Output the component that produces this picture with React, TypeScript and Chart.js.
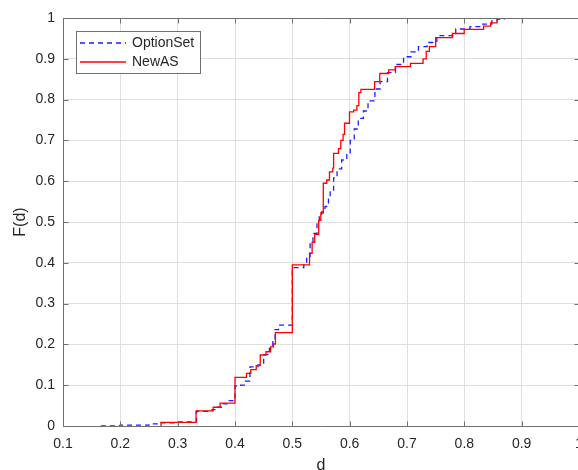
import React, { useEffect, useRef } from 'react';
import { Chart, registerables } from 'chart.js';

Chart.register(...registerables);

// ---- data ----
const seriesLabels = ['OptionSet', 'NewAS'];

const optionSetX = [0.166, 0.2, 0.25, 0.27, 0.3, 0.333, 0.36, 0.37, 0.378, 0.386, 0.4, 0.41, 0.418, 0.426, 0.44, 0.45, 0.46, 0.466, 0.47, 0.476, 0.5, 0.52, 0.525, 0.531, 0.536, 0.543, 0.547, 0.551, 0.557, 0.563, 0.566, 0.572, 0.578, 0.586, 0.595, 0.601, 0.608, 0.615, 0.624, 0.632, 0.644, 0.653, 0.666, 0.68, 0.694, 0.707, 0.72, 0.735, 0.752, 0.785, 0.81, 0.83, 0.848, 0.857, 0.87, 0.909];
const optionSetF = [0, 0.002, 0.005, 0.008, 0.01, 0.036, 0.04, 0.046, 0.054, 0.062, 0.098, 0.1, 0.11, 0.145, 0.15, 0.175, 0.19, 0.21, 0.236, 0.247, 0.388, 0.399, 0.415, 0.448, 0.472, 0.5, 0.513, 0.525, 0.538, 0.562, 0.578, 0.608, 0.63, 0.652, 0.668, 0.7, 0.728, 0.754, 0.772, 0.797, 0.826, 0.844, 0.866, 0.886, 0.905, 0.917, 0.93, 0.94, 0.957, 0.973, 0.979, 0.985, 0.993, 0.998, 1.0, 1.0];

const newAsX = [0.271, 0.271, 0.332, 0.362, 0.374, 0.4, 0.42, 0.4275, 0.437, 0.444, 0.454, 0.462, 0.467, 0.4705, 0.5, 0.53, 0.5345, 0.539, 0.546, 0.5497, 0.554, 0.56, 0.5648, 0.5706, 0.572, 0.5805, 0.5845, 0.5885, 0.591, 0.5997, 0.607, 0.6126, 0.616, 0.6196, 0.6435, 0.6525, 0.668, 0.6794, 0.706, 0.728, 0.7335, 0.739, 0.75, 0.779, 0.7998, 0.8335, 0.846, 0.857, 0.862];
const newAsF = [0, 0.009, 0.037, 0.046, 0.056, 0.119, 0.129, 0.138, 0.148, 0.174, 0.182, 0.194, 0.201, 0.229, 0.395, 0.423, 0.45, 0.47, 0.504, 0.522, 0.595, 0.603, 0.623, 0.632, 0.668, 0.68, 0.7, 0.715, 0.742, 0.77, 0.774, 0.785, 0.817, 0.825, 0.844, 0.864, 0.873, 0.881, 0.889, 0.9, 0.918, 0.93, 0.952, 0.962, 0.972, 0.98, 0.988, 0.997, 1.0];

const xTicks = [0.1, 0.2, 0.3, 0.4, 0.5, 0.6, 0.7, 0.8, 0.9, 1];
const yTicks = [0, 0.1, 0.2, 0.3, 0.4, 0.5, 0.6, 0.7, 0.8, 0.9, 1];
const xTitle = 'd';
const yTitle = 'F(d)';

// ---- styles ----
const FONT = '"Liberation Sans", Arial, Helvetica, sans-serif';
const TEXT = '#262626';
const AXIS = '#707070';
const GRID = '#dfdfdf';
const BLUE = 'rgb(30,30,255)';
const RED = 'rgb(255,0,0)';
const LW = 1.3;

const fmt = (v: number) => String(Math.round(v * 10) / 10);

const framePlugin = {
  id: 'matlabFrame',
  afterDraw(chart: any) {
    const { ctx, chartArea: a, scales } = chart;
    const L = Math.floor(a.left) + 0.5;
    const R = Math.floor(a.right) + 0.5;
    const T = Math.floor(a.top) + 0.5;
    const B = Math.floor(a.bottom) + 0.5;
    ctx.save();
    ctx.strokeStyle = AXIS;
    ctx.lineWidth = 1;
    ctx.setLineDash([]);
    ctx.beginPath();
    ctx.rect(L, T, R - L, B - T);
    ctx.stroke();
    const tl = 5;
    ctx.beginPath();
    xTicks.forEach((v) => {
      const px = Math.round(scales.x.getPixelForValue(v)) + 0.5;
      ctx.moveTo(px, B);
      ctx.lineTo(px, B - tl);
      ctx.moveTo(px, T);
      ctx.lineTo(px, T + tl);
    });
    yTicks.forEach((v) => {
      const py = Math.round(scales.y.getPixelForValue(v)) + 0.5;
      ctx.moveTo(L, py);
      ctx.lineTo(L + tl, py);
      ctx.moveTo(R, py);
      ctx.lineTo(R - tl, py);
    });
    ctx.stroke();

    // axis titles
    ctx.fillStyle = TEXT;
    ctx.font = `16px ${FONT}`;
    ctx.textAlign = 'center';
    ctx.textBaseline = 'alphabetic';
    ctx.fillText(xTitle, (a.left + a.right) / 2, 470);
    ctx.save();
    ctx.translate(25, (a.top + a.bottom) / 2);
    ctx.rotate(-Math.PI / 2);
    ctx.fillText(yTitle, 0, 0);
    ctx.restore();

    // legend
    const lx = 76.5, ly = 31.5, lw = 124, lh = 42;
    ctx.fillStyle = '#ffffff';
    ctx.fillRect(lx, ly, lw, lh);
    ctx.strokeStyle = AXIS;
    ctx.lineWidth = 1;
    ctx.strokeRect(lx, ly, lw, lh);
    const ds = chart.data.datasets;
    const rows = [43, 62];
    ds.forEach((d: any, i: number) => {
      const y = rows[i];
      ctx.strokeStyle = d.borderColor;
      ctx.lineWidth = d.borderWidth;
      ctx.setLineDash(d.borderDash || []);
      ctx.beginPath();
      ctx.moveTo(80, y);
      ctx.lineTo(126, y);
      ctx.stroke();
      ctx.setLineDash([]);
      ctx.fillStyle = TEXT;
      ctx.font = `14px ${FONT}`;
      ctx.textAlign = 'left';
      ctx.textBaseline = 'middle';
      ctx.fillText(d.label, 132, y + 0.5);
    });
    ctx.restore();
  },
};

export default function App() {
  const ref = useRef<HTMLCanvasElement | null>(null);

  useEffect(() => {
    if (!ref.current) return;
    const chart = new Chart(ref.current, {
      type: 'line',
      data: {
        datasets: [
          {
            label: seriesLabels[0],
            data: optionSetX.map((x, i) => ({ x, y: optionSetF[i] })),
            borderColor: BLUE,
            borderWidth: LW,
            borderDash: [5, 4],
            pointRadius: 0,
            stepped: true,
            fill: false,
            order: 1,
          },
          {
            label: seriesLabels[1],
            data: newAsX.map((x, i) => ({ x, y: newAsF[i] })),
            borderColor: RED,
            borderWidth: LW,
            pointRadius: 0,
            stepped: true,
            fill: false,
            order: 0,
          },
        ],
      },
      options: {
        responsive: false,
        animation: false,
        events: [],
        layout: { padding: { top: 18, right: 1, left: 0, bottom: 0 }, autoPadding: false } as any,
        plugins: { legend: { display: false }, tooltip: { enabled: false } },
        scales: {
          x: {
            type: 'linear',
            min: 0.1,
            max: 1,
            afterBuildTicks: (s: any) => {
              s.ticks = xTicks.map((v) => ({ value: v }));
            },
            afterFit: (s: any) => {
              s.height = 44;
              s.paddingLeft = 0;
              s.paddingRight = 0;
            },
            ticks: {
              callback: (v: any) => fmt(Number(v)),
              font: { family: FONT, size: 14 },
              color: TEXT,
              padding: 10,
              maxRotation: 0,
              autoSkip: false,
            },
            grid: { color: GRID, drawTicks: false, lineWidth: 1 },
            border: { display: false },
          },
          y: {
            type: 'linear',
            min: 0,
            max: 1,
            afterBuildTicks: (s: any) => {
              s.ticks = yTicks.map((v) => ({ value: v }));
            },
            afterFit: (s: any) => {
              s.width = 63;
              s.paddingTop = 0;
              s.paddingBottom = 0;
            },
            ticks: {
              callback: (v: any) => fmt(Number(v)),
              font: { family: FONT, size: 14 },
              color: TEXT,
              padding: 8,
              autoSkip: false,
            },
            grid: { color: GRID, drawTicks: false, lineWidth: 1 },
            border: { display: false },
          },
        },
      },
      plugins: [framePlugin],
    });
    return () => chart.destroy();
  }, []);

  return (
    <div style={{ position: 'absolute', left: 0, top: 0, width: 578, height: 470, overflow: 'hidden', background: '#fff' }}>
      <canvas ref={ref} width={580} height={470} style={{ display: 'block', width: 580, height: 470 }} />
    </div>
  );
}
